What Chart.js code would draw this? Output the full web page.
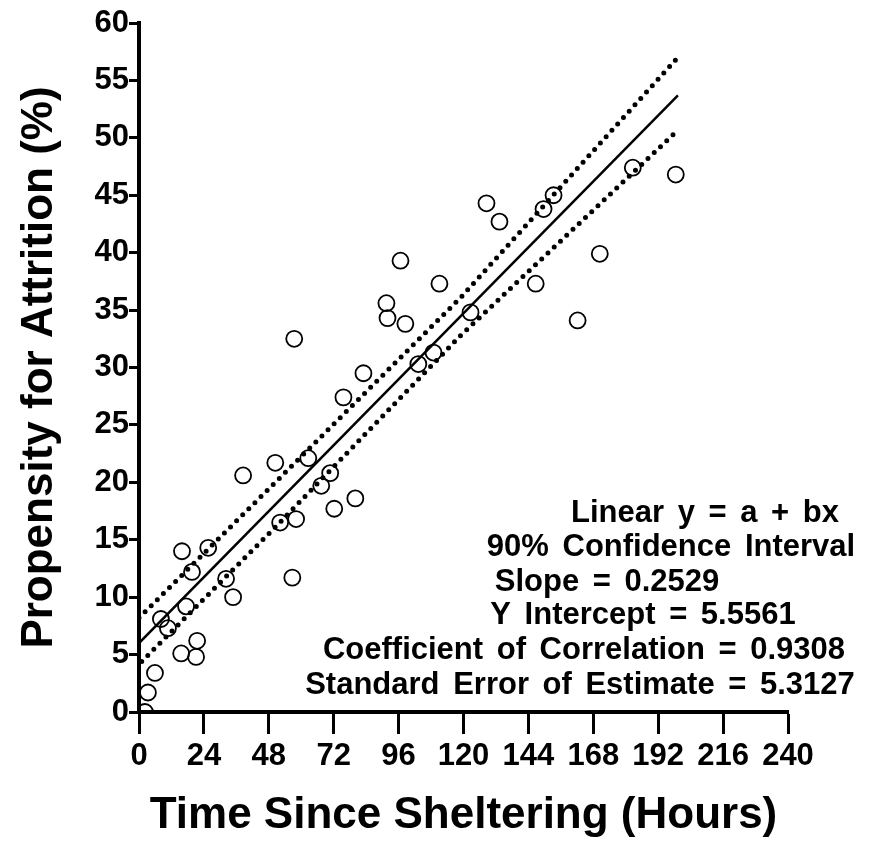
<!DOCTYPE html>
<html>
<head>
<meta charset="utf-8">
<script src="https://cdn.jsdelivr.net/npm/chart.js@4/dist/chart.umd.min.js"></script>
<style>
  html, body { margin: 0; padding: 0; background: #fff; }
</style>
</head>
<body>
<canvas id="grafico" width="884" height="854"></canvas>
<script>
// observed points (hours since sheltering, attrition %)
var hours = [2.2, 3.3, 5.9, 8.1, 10.7, 15.9, 15.6, 17.4, 19.6, 21.1, 21.5, 25.6, 32.2, 34.8,
  38.5, 50.4, 52.2, 56.7, 58.1, 57.4, 62.6, 67.4, 70.7, 72.2, 75.6, 80.0, 83.0, 91.5, 91.9,
  96.7, 98.5, 103.3, 108.9, 111.1, 122.6, 128.5, 133.3, 146.7, 149.6, 153.3, 162.2, 170.4,
  182.6, 198.5];
var attrition = [0.0, 1.7, 3.4, 8.1, 7.3, 14.0, 5.1, 9.2, 12.2, 4.8, 6.2, 14.3, 11.6, 10.0,
  20.6, 21.7, 16.5, 11.7, 16.8, 32.5, 22.1, 19.7, 20.8, 17.7, 27.4, 18.6, 29.5, 35.6, 34.3,
  39.3, 33.8, 30.3, 31.3, 37.3, 34.8, 44.3, 42.7, 37.3, 43.8, 45.0, 34.1, 39.9,
  47.4, 46.8];

// fitted line and 90% confidence limits as drawn
var fitX = [0, 199.3];
var fitY = [6.0, 53.7];
var upperX = [0, 50, 119, 200.4];
var upperY = [8.2, 19.9, 36.1, 57.3];
var lowerX = [1, 50, 119, 198.1];
var lowerY = [4.4, 16.0, 32.8, 50.4];

var xTicks = [0, 24, 48, 72, 96, 120, 144, 168, 192, 216, 240];
var yTicks = [0, 5, 10, 15, 20, 25, 30, 35, 40, 45, 50, 55, 60];

var summaryLines = [
  "Linear y = a + bx",
  "90% Confidence Interval",
  "Slope = 0.2529",
  "Y Intercept = 5.5561",
  "Coefficient of Correlation = 0.9308",
  "Standard Error of Estimate = 5.3127"
];

function pares(xs, ys) {
  var out = [];
  for (var i = 0; i < xs.length; i++) out.push({ x: xs[i], y: ys[i] });
  return out;
}

var fonte = "'Liberation Sans', Arial, sans-serif";

// summary text block at lower right
var resumo = {
  id: "resumo",
  afterDraw: function(chart) {
    var ctx = chart.ctx;
    var cx = [705, 671, 607, 643, 584, 580];
    var cy = [513, 547, 582, 615, 650, 685];
    ctx.save();
    ctx.fillStyle = "#000";
    ctx.font = "bold 31px " + fonte;
    ctx.wordSpacing = "5px";
    ctx.textAlign = "center";
    ctx.textBaseline = "middle";
    for (var i = 0; i < summaryLines.length; i++) {
      ctx.fillText(summaryLines[i], cx[i], cy[i]);
    }
    ctx.restore();
  }
};

var contexto = document.getElementById("grafico").getContext("2d");

var grafico = new Chart(contexto, {
  type: "scatter",
  data: {
    datasets: [
      {
        data: pares(hours, attrition),
        showLine: false,
        pointStyle: "circle",
        pointRadius: 8,
        pointBorderWidth: 1.8,
        pointBorderColor: "#000",
        pointBackgroundColor: "rgba(0,0,0,0)",
        order: 0
      },
      {
        data: pares(fitX, fitY),
        showLine: true,
        borderColor: "#000",
        borderWidth: 2.5,
        pointRadius: 0,
        order: 1
      },
      {
        data: pares(upperX, upperY),
        showLine: true,
        borderColor: "#000",
        borderWidth: 5,
        borderDash: [0, 8.6],
        borderCapStyle: "round",
        pointRadius: 0,
        order: 2
      },
      {
        data: pares(lowerX, lowerY),
        showLine: true,
        borderColor: "#000",
        borderWidth: 5,
        borderDash: [0, 8.6],
        borderCapStyle: "round",
        pointRadius: 0,
        order: 2
      }
    ]
  },
  options: {
    responsive: false,
    animation: false,
    devicePixelRatio: 1,
    layout: { padding: { left: 0, top: 23, right: 96, bottom: 0 } },
    plugins: {
      legend: { display: false },
      tooltip: { enabled: false }
    },
    scales: {
      x: {
        type: "linear",
        min: 0,
        max: 240,
        afterBuildTicks: function(s) { s.ticks = xTicks.map(function(v) { return { value: v }; }); },
        afterFit: function(s) { s.height = 142; },
        border: { color: "#000", width: 4 },
        grid: { drawOnChartArea: false, color: "#000", tickColor: "#000", tickLength: 22, tickWidth: 3 },
        ticks: {
          color: "#000",
          padding: 4,
          autoSkip: false,
          maxRotation: 0,
          font: { family: fonte, size: 31, weight: "bold" }
        },
        title: {
          display: true,
          text: "Time Since Sheltering (Hours)",
          color: "#000",
          padding: { top: 0, bottom: 12 },
          font: { family: fonte, size: 44, weight: "bold" }
        }
      },
      y: {
        type: "linear",
        min: 0,
        max: 60,
        afterBuildTicks: function(s) { s.ticks = yTicks.map(function(v) { return { value: v }; }); },
        afterFit: function(s) { s.width = 139; },
        border: { color: "#000", width: 4 },
        grid: { drawOnChartArea: false, color: "#000", tickColor: "#000", tickLength: 10, tickWidth: 3 },
        ticks: {
          color: "#000",
          padding: 0,
          autoSkip: false,
          font: { family: fonte, size: 31, weight: "bold" }
        },
        title: {
          display: true,
          text: "Propensity for Attrition (%)",
          color: "#000",
          padding: { top: 13, bottom: 0 },
          font: { family: fonte, size: 44, weight: "bold" }
        }
      }
    }
  },
  plugins: [resumo]
});
</script>
</body>
</html>
